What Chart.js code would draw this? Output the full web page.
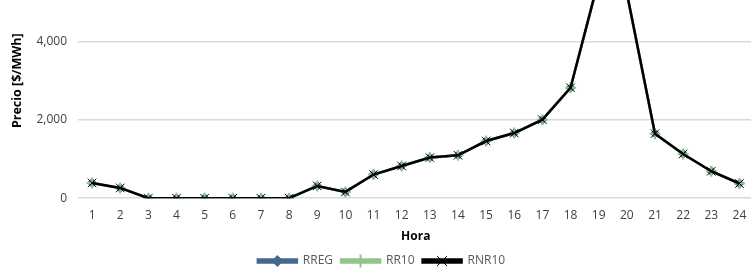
<!DOCTYPE html>
<html>
<head>
<meta charset="utf-8">
<script src="https://cdn.jsdelivr.net/npm/chart.js@4.4.0/dist/chart.umd.min.js"></script>
<style>
  html, body { margin: 0; padding: 0; background: #fff; overflow: hidden; width: 751px; height: 274px; }
  #wrap { position: absolute; left: 0; top: 0; }
</style>
</head>
<body>
<div id="wrap"><canvas id="myChart" width="761" height="336"></canvas></div>
<script>
const horas = ["1","2","3","4","5","6","7","8","9","10","11","12","13","14","15","16","17","18","19","20","21","22","23","24"];
const rreg  = [390, 262, 0, 0, 0, 0, 0, 0, 313, 160, 604, 823, 1037, 1096, 1460, 1664, 2005, 2820, 5580, 5240, 1648, 1129, 688, 375];
const rr10  = [390, 262, 0, 0, 0, 0, 0, 0, 313, 160, 604, 823, 1037, 1096, 1460, 1664, 2005, 2820, 5580, 5240, 1648, 1129, 688, 375];
const rnr10 = [390, 262, 0, 0, 0, 0, 0, 0, 313, 160, 604, 823, 1037, 1096, 1460, 1664, 2005, 2820, 5580, 5240, 1648, 1129, 688, 375];
const yTicks = [0, 2000, 4000, 6000];

const FONT = "'Open Sans', 'Noto Sans', sans-serif";

// legend: line sample with the series marker drawn in its middle
const legendMarkers = {
  id: "legendMarkers",
  afterDraw(chart) {
    const ctx = chart.ctx;
    const boxW = chart.legend.options.labels.boxWidth;
    chart.legend.legendHitBoxes.forEach((box, i) => {
      const ds = chart.data.datasets[chart.legend.legendItems[i].datasetIndex];
      ctx.save();
      ctx.fillStyle = ds.pointBackgroundColor;
      ctx.strokeStyle = ds.pointBorderColor;
      ctx.lineWidth = ds.pointBorderWidth;
      Chart.helpers.drawPoint(ctx, {
        pointStyle: ds.pointStyle,
        radius: ds.pointRadius + 1,
        rotation: 0,
        borderWidth: ds.pointBorderWidth
      }, box.left + boxW / 2, box.top + box.height / 2);
      ctx.restore();
    });
  }
};

// shift the canvas so the zero line sits where the cropped original had it
const placeChart = {
  id: "placeChart",
  afterLayout(chart) {
    const y0 = chart.scales.y.getPixelForValue(0);
    document.getElementById("wrap").style.top = (198 - y0) + "px";
  }
};

const ctx = document.getElementById("myChart").getContext("2d");

const myChart = new Chart(ctx, {
  type: "line",
  data: {
    labels: horas,
    datasets: [
      {
        label: "RREG",
        data: rreg,
        order: 3,
        borderColor: "#44698F",
        backgroundColor: "#44698F",
        borderWidth: 2.5,
        pointStyle: "rectRot",
        pointRadius: 4.5,
        pointBackgroundColor: "#44698F",
        pointBorderColor: "#44698F",
        pointBorderWidth: 1,
      },
      {
        label: "RR10",
        data: rr10,
        order: 2,
        borderColor: "#93C48C",
        backgroundColor: "#93C48C",
        borderWidth: 2.5,
        pointStyle: "cross",
        pointRadius: 5.5,
        pointBackgroundColor: "#93C48C",
        pointBorderColor: "#93C48C",
        pointBorderWidth: 2,
      },
      {
        label: "RNR10",
        data: rnr10,
        order: 1,
        borderColor: "#000000",
        backgroundColor: "#000000",
        borderWidth: 2.5,
        pointStyle: "crossRot",
        pointRadius: 6,
        pointBackgroundColor: "#000000",
        pointBorderColor: "#000000",
        pointBorderWidth: 1,
      },
    ],
  },
  options: {
    responsive: false,
    animation: false,
    devicePixelRatio: 1,
    layout: { padding: { top: 8, right: 2, bottom: 4, left: 4 } },
    plugins: {
      title: { display: false },
      tooltip: { enabled: false },
      legend: {
        position: "bottom",
        labels: {
          boxWidth: 39,
          boxHeight: 3,
          padding: 8,
          color: "#595959",
          font: { family: FONT, size: 12 },
          sort: (a, b) => a.datasetIndex - b.datasetIndex,
        },
      },
    },
    scales: {
      x: {
        offset: true,
        afterFit(scale) { scale.paddingLeft = 0; scale.paddingRight = 0; },
        grid: { display: false },
        border: { display: false },
        ticks: { color: "#404040", font: { family: FONT, size: 12 }, padding: 2, maxRotation: 0 },
        title: { display: true, text: "Hora", color: "#000", font: { family: FONT, size: 12, weight: "bold" }, padding: { top: 5, bottom: 3 } },
      },
      y: {
        min: 0,
        max: 6000,
        afterBuildTicks(scale) { scale.ticks = yTicks.map(v => ({ value: v })); },
        afterFit(scale) { scale.width = 74; },
        grid: { color: "#d9d9d9", lineWidth: 1.5, drawTicks: false },
        border: { display: false },
        ticks: {
          color: "#404040",
          font: { family: FONT, size: 12 },
          padding: 11,
          callback: v => v.toLocaleString("en-US"),
        },
        title: { display: true, text: "Precio [$/MWh]", color: "#000", font: { family: FONT, size: 12.5, weight: "bold" }, padding: { top: 6, bottom: 0 } },
      },
    },
  },
  plugins: [legendMarkers, placeChart],
});
</script>
</body>
</html>
